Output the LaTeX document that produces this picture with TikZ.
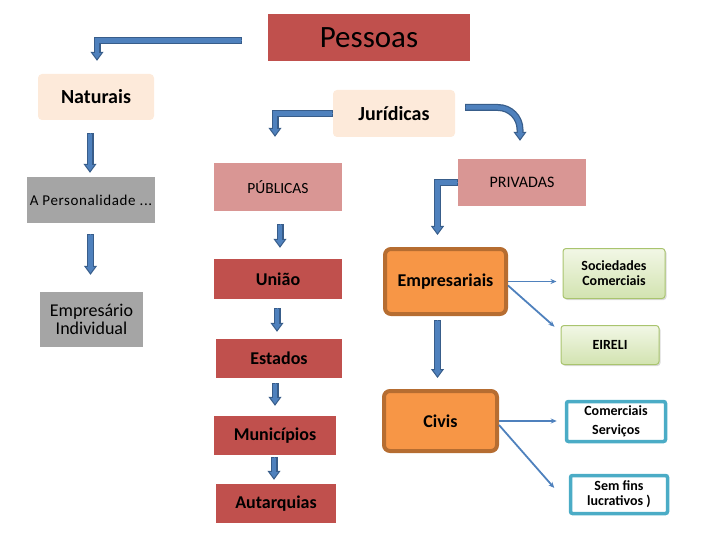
\documentclass[tikz,border=0pt]{standalone}
\usepackage{fontspec}
\setmainfont{Carlito}
\usetikzlibrary{arrows.meta,shadows}
\definecolor{redbox}{HTML}{C0504D}
\definecolor{pinkbox}{HTML}{D99694}
\definecolor{peach}{HTML}{FDEADA}
\definecolor{greybox}{HTML}{A5A5A5}
\definecolor{orangebox}{HTML}{F79646}
\definecolor{orangeedge}{HTML}{B66D31}
\definecolor{greentop}{HTML}{F2F7E6}
\definecolor{greenbot}{HTML}{D2E3B0}
\definecolor{greenedge}{HTML}{A9C46E}
\definecolor{cyanedge}{HTML}{4BACC6}
\definecolor{arrblue}{HTML}{4F81BD}
\definecolor{arrdark}{HTML}{385D8A}
\tikzset{
  box/.style={rectangle, inner sep=2pt, align=center, text=black},
  fbold/.style={font=\fontsize{18}{21}\selectfont\bfseries},
  fnorm/.style={font=\fontsize{15.5}{18}\selectfont},
  redb/.style={box, fill=redbox, fbold},
  pinkb/.style={box, fill=pinkbox, fnorm},
  peachb/.style={box, fill=peach, rounded corners=4pt, font=\fontsize{20}{23}\selectfont\bfseries},
  greyb/.style={box, fill=greybox, fnorm},
  orangeb/.style={box, fill=orangebox, draw=orangeedge, line width=4pt, rounded corners=6pt, fbold},
  greenb/.style={box, top color=greentop, bottom color=greenbot, draw=greenedge, line width=1pt, rounded corners=3pt,
     font=\fontsize{14}{15}\selectfont\bfseries,
     drop shadow={shadow xshift=1.5pt, shadow yshift=-1.5pt, opacity=0.35, fill=black!40}},
  cyanb/.style={box, fill=white, draw=cyanedge, line width=3.5pt, rounded corners=2pt, font=\fontsize{14}{15}\selectfont\bfseries},
  barrow/.style n args={2}{draw=arrdark, line width=7pt, line join=miter, shorten <=#1, shorten >=#2+8pt,
     postaction={draw=arrblue, line width=0.4pt, shorten <=#1, shorten >=#2,
        -{Triangle[width=13pt,length=9pt,line width=1pt,fill=arrblue,color=arrdark]}},
     postaction={draw=arrblue, line width=4.5pt, shorten <=#1+1pt, shorten >=#2+6pt}},
  thin/.style={draw=arrblue, line width=1.8pt, -{Stealth[length=6pt,width=5pt]}}
}
\begin{document}
\begin{tikzpicture}[x=1pt,y=-1pt]
\useasboundingbox (0,0) rectangle (720,540);
% nodes
\node[redb, minimum width=202pt, minimum height=47pt, font=\fontsize{31}{35}\selectfont] (pessoas) at (369,37.5) {Pessoas};
\node[peachb, minimum width=116pt, minimum height=46pt] (nat) at (96,97) {Naturais};
\node[peachb, minimum width=122pt, minimum height=47pt] (jur) at (394,113.5) {Jurídicas};
\node[greyb, minimum width=128pt, minimum height=46pt, font=\fontsize{15}{17}\selectfont\addfontfeature{LetterSpace=4}] (pers) at (91,200) {A Personalidade ...};
\node[greyb, minimum width=103pt, minimum height=55pt, font=\fontsize{18}{18}\selectfont] (empind) at (91.5,319.5) {Empresário\\Individual};
\node[pinkb, minimum width=128pt, minimum height=48pt] (pub) at (278,187) {PÚBLICAS};
\node[pinkb, minimum width=128pt, minimum height=47pt, font=\fontsize{16}{18}\selectfont] (priv) at (522,182.5) {PRIVADAS};
\node[redb, minimum width=128pt, minimum height=40pt] (uniao) at (278,279) {União};
\node[redb, minimum width=126pt, minimum height=39pt] (est) at (279,358.5) {Estados};
\node[redb, minimum width=122pt, minimum height=39pt] (mun) at (275,435.5) {Municípios};
\node[redb, minimum width=120pt, minimum height=39pt] (aut) at (276,503.5) {Autarquias};
\node[orangeb, minimum width=121pt, minimum height=65pt] (emp) at (445.5,281.5) {Empresariais};
\node[orangeb, minimum width=113pt, minimum height=60pt] (civ) at (440.5,421) {Civis};
\node[greenb, minimum width=102pt, minimum height=50pt] (soc) at (614,273.5) {Sociedades\\Comerciais};
\node[greenb, minimum width=98pt, minimum height=39pt] (eir) at (610,345) {EIRELI};
\node[cyanb, minimum width=99pt, minimum height=40pt] (com) at (616,421.5) {Comerciais\\[4pt]Serviços};
\node[cyanb, minimum width=97pt, minimum height=38pt] (sem) at (619,494.5) {Sem fins\\lucrativos )};
% block arrows
\draw[barrow={26pt}{13pt}] ([yshift=-3pt]pessoas.west) -| ([xshift=1pt]nat.north);
\draw[barrow={0pt}{26pt}] (jur.west) -| ([xshift=-3pt]pub.north);
\draw[barrow={10pt}{18pt}, rounded corners=22pt] ([yshift=6pt]jur.east) -| ([xshift=-2pt]priv.north);
\draw[barrow={0pt}{12pt}] (priv.west) -| ([xshift=-8pt]emp.north);
\draw[barrow={4pt}{11pt}] ([xshift=-3pt]civ.north |- emp.south) -- ([xshift=-3pt]civ.north);
\draw[barrow={13pt}{4pt}] ([xshift=-1pt]pers.north |- nat.south) -- ([xshift=-1pt]pers.north);
\draw[barrow={11pt}{17pt}] ([xshift=-1pt]empind.north |- pers.south) -- ([xshift=-1pt]empind.north);
\draw[barrow={13pt}{11pt}] ([xshift=2pt]uniao.north |- pub.south) -- ([xshift=2pt]uniao.north);
\draw[barrow={9pt}{7pt}] ([xshift=-2pt]est.north |- uniao.south) -- ([xshift=-2pt]est.north);
\draw[barrow={5pt}{10pt}] (mun.north |- est.south) -- (mun.north);
\draw[barrow={2pt}{4pt}] ([xshift=-2pt]aut.north |- mun.south) -- ([xshift=-2pt]aut.north);
% thin connectors
\draw[thin, shorten >=6pt] (emp.east) -- (emp.east -| soc.west);
\draw[thin, shorten >=8pt] ([yshift=-4pt]emp.east) -- ([yshift=13pt]eir.west);
\draw[thin, shorten >=8pt] (civ.east) -- (civ.east -| com.west);
\draw[thin, shorten >=22pt] ([yshift=-4pt]civ.east) -- ([yshift=-10pt]sem.west);
\end{tikzpicture}
\end{document}
